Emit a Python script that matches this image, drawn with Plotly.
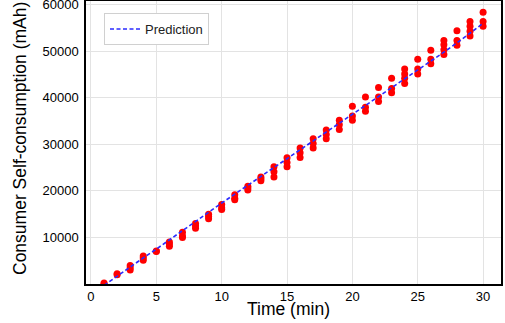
import plotly.graph_objects as go

# Observed self-consumption per minute (several measurements per minute)
minutes = list(range(1, 31))
observed = [
    [0, 200],
    [2000, 2200],
    [3000, 3500, 4000],
    [5100, 5600, 6000],
    [7000, 7100],
    [8100, 8600, 9000],
    [10000, 10300, 11100],
    [12000, 12500, 13000],
    [14000, 14500, 15000],
    [16000, 16400, 17100],
    [18100, 18400, 19200],
    [20200, 20600, 21000],
    [22200, 22600, 23000],
    [23000, 24100, 25200],
    [25200, 26100, 27100],
    [27200, 28200, 29200],
    [29200, 30200, 31200],
    [31200, 32100, 33100],
    [33200, 34200, 35200],
    [35200, 36100, 38200],
    [37100, 38000, 40200],
    [39200, 40200, 42200],
    [41100, 42000, 44200],
    [43100, 44200, 45100, 46200],
    [45100, 46200, 48300],
    [47300, 48300, 50200],
    [49300, 50300, 51400, 52300],
    [51300, 52300, 54400],
    [53300, 54300, 55400, 56400],
    [55400, 56400, 58400],
]
prediction = [-300, 1700, 3700, 5600, 7500, 9500, 11500, 13500, 15400, 17400,
              19300, 21200, 23100, 25000, 26900, 28800, 30700, 32600, 34500, 36400,
              38300, 40200, 42100, 44000, 45900, 47800, 49800, 51800, 53900, 56000]

x_ticks = [0, 5, 10, 15, 20, 25, 30]
y_ticks = [10000, 20000, 30000, 40000, 50000, 60000]
x_title = "Time (min)"
y_title = "Consumer Self-consumption (mAh)"

obs_x = [m for m, vals in zip(minutes, observed) for _ in vals]
obs_y = [v for vals in observed for v in vals]

fig = go.Figure()
fig.add_trace(go.Scatter(
    x=obs_x, y=obs_y, mode="markers",
    marker=dict(color="#ff0000", size=7, line=dict(width=0)),
    showlegend=False, name="Observed",
))
fig.add_trace(go.Scatter(
    x=minutes, y=prediction, mode="lines",
    line=dict(color="#2b2bff", width=1.6, dash="4px,2.5px"),
    name="Prediction",
))

font_family = "Liberation Sans, Arial, sans-serif"
W, H = 505, 323
ML, MR, MT, MB = 86, 4, 1, 39
PW, PH = W - ML - MR, H - MT - MB

def px_x(p):
    return (p - ML) / PW

def px_y(p):
    return 1 - (p - MT) / PH

fig.update_layout(
    width=W, height=H,
    margin=dict(l=ML, r=MR, t=MT, b=MB),
    paper_bgcolor="white", plot_bgcolor="white",
    font=dict(family=font_family, color="black", size=13),
    legend=dict(
        x=px_x(104), y=px_y(13), xanchor="left", yanchor="top",
        bgcolor="white", bordercolor="#d0d0d0", borderwidth=1,
        font=dict(size=13, color="#222222"), itemwidth=30,
    ),
    annotations=[
        dict(text=x_title, xref="paper", yref="paper", x=px_x(288), y=px_y(308.5),
             xanchor="center", yanchor="middle", showarrow=False,
             font=dict(size=17.5, color="black")),
        dict(text=y_title, xref="paper", yref="paper", x=px_x(20), y=px_y(139),
             xanchor="center", yanchor="middle", showarrow=False, textangle=-90,
             font=dict(size=17.5, color="black")),
    ],
)
fig.update_xaxes(
    range=[-0.38, 31.37], tickvals=x_ticks, ticktext=[str(t) for t in x_ticks],
    showgrid=True, gridcolor="#e3e3e3", gridwidth=1, zeroline=False,
    showline=True, linecolor="black", linewidth=1.5, mirror=True,
    ticks="", tickfont=dict(size=13), ticklabelstandoff=0,
    automargin=False,
)
fig.update_yaxes(
    range=[0, 60800], tickvals=y_ticks, ticktext=[str(t) for t in y_ticks],
    showgrid=True, gridcolor="#e3e3e3", gridwidth=1, zeroline=False,
    showline=True, linecolor="black", linewidth=1.5, mirror=True,
    ticks="", tickfont=dict(size=13), ticklabelstandoff=3,
    ticklabeloverflow="allow",
    automargin=False,
)

fig.write_html("out.html")
